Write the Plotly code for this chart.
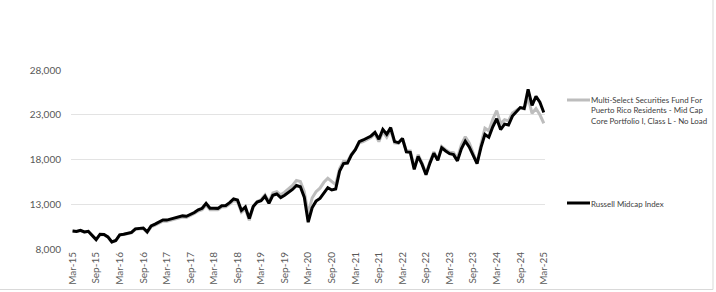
import pandas as pd
import plotly.graph_objects as go

months = [d.strftime("%b-%y") for d in pd.date_range("2015-03-01", "2025-03-01", freq="MS")]

fund_name = "Multi-Select Securities Fund For<br>Puerto Rico Residents - Mid Cap<br>Core Portfolio I, Class L - No Load"
index_name = "Russell Midcap Index"

fund = [
    10000, 9950, 10060, 9880, 9960, 9430, 9030, 9620, 9600, 9320,
    8760, 8930, 9550, 9620, 9740, 9810, 10200, 10270, 10290, 9860,
    10480, 10670, 10860, 11120, 11100, 11230, 11290, 11450, 11570, 11520,
    11730, 11960, 12250, 12400, 12920, 12380, 12380, 12380, 12680, 12720,
    13020, 13430, 13300, 12100, 12480, 11200, 12750, 13300, 13500, 14050,
    13300, 14250, 14400, 14050, 14350, 14700, 15100, 15650, 15550, 14400,
    11900, 13700, 14400, 14800, 15450, 15900, 15500, 15200, 17000, 17800,
    17750, 18600, 19100, 19850, 20000, 20200, 20450, 20850, 20000, 21100,
    20500, 21300, 19850, 19800, 20350, 18950, 18950, 17100, 18550, 17600,
    16400, 17750, 18850, 18000, 19450, 19100, 18800, 18750, 18150, 19650,
    20550, 19850, 18750, 17600, 19700, 21500, 21200, 22500, 23450, 22000,
    22450, 22300, 23200, 23550, 23800, 23650, 24900, 23150, 23700, 23000,
    22050,
]

russell = [
    10000, 9950, 10080, 9900, 9980, 9450, 9050, 9650, 9620, 9350,
    8780, 8950, 9580, 9650, 9780, 9850, 10250, 10320, 10350, 9920,
    10580, 10780, 10980, 11250, 11230, 11360, 11420, 11580, 11700, 11650,
    11850, 12080, 12380, 12550, 13100, 12550, 12560, 12540, 12840, 12870,
    13180, 13600, 13480, 12300, 12700, 11400, 12750, 13250, 13400, 13900,
    13100, 14000, 14150, 13750, 14000, 14300, 14650, 15100, 14950, 13800,
    11000, 12600, 13350, 13650, 14300, 14850, 14600, 14700, 16700, 17550,
    17600, 18500, 19100, 19990, 20180, 20370, 20630, 21040, 20260, 21370,
    20820, 21560, 20000, 19880, 20350, 18850, 18800, 16900, 18350, 17450,
    16300, 17600, 18700, 17900, 19300, 18950, 18650, 18550, 17850, 19200,
    20050, 19400, 18500, 17550, 19350, 20800, 20500, 21650, 22550, 21350,
    21950, 21850, 22850, 23300, 23800, 23700, 25850, 24050, 25050, 24400,
    23250,
]

y_ticks = [8000, 13000, 18000, 23000, 28000]
x_ticks = months[::6]

FONT = "Lato, 'Liberation Sans', sans-serif"
FUND_COLOR = "#BDBDBD"
INDEX_COLOR = "#000000"

# plot area geometry (px) for paper-coordinate placement of legend & border
L, R, T, B = 71, 171, 70, 43
PW, PH = 716 - L - R, 292 - T - B


def px_x(px):
    return (px - L) / PW


def px_y(py):
    return (292 - B - py) / PH


fig = go.Figure()
fig.add_trace(go.Scatter(
    x=months, y=fund, name=fund_name.replace("<br>", " "), mode="lines",
    line=dict(color=FUND_COLOR, width=3), showlegend=False,
))
fig.add_trace(go.Scatter(
    x=months, y=russell, name=index_name, mode="lines",
    line=dict(color=INDEX_COLOR, width=3), showlegend=False,
))

legend_items = [
    (fund_name, FUND_COLOR, 100),
    (index_name, INDEX_COLOR, 203),
]
shapes = []
annotations = []
for text, color, ypx in legend_items:
    shapes.append(dict(type="line", xref="paper", yref="paper",
                       x0=px_x(567), x1=px_x(590), y0=px_y(ypx), y1=px_y(ypx),
                       line=dict(color=color, width=3)))
    annotations.append(dict(xref="paper", yref="paper", x=px_x(589), y=px_y(ypx - 6.5),
                            xanchor="left", yanchor="top", align="left",
                            text=text, showarrow=False,
                            font=dict(family=FONT, size=7.9, color="#404040")))

# chart border (bottom and right edges)
shapes.append(dict(type="line", xref="paper", yref="paper",
                   x0=px_x(0), x1=px_x(713), y0=px_y(289.5), y1=px_y(289.5),
                   line=dict(color="#D9D9D9", width=1)))
shapes.append(dict(type="line", xref="paper", yref="paper",
                   x0=px_x(713), x1=px_x(713), y0=px_y(289.5), y1=px_y(0),
                   line=dict(color="#D9D9D9", width=1)))

fig.update_layout(
    template="none",
    width=716, height=292,
    margin=dict(l=L, r=R, t=T, b=B),
    paper_bgcolor="white", plot_bgcolor="white",
    font=dict(family=FONT, size=10, color="#595959"),
    showlegend=False,
    xaxis=dict(
        type="category", range=[-0.4, 120.3],
        tickmode="array", tickvals=x_ticks, ticktext=x_ticks,
        tickangle=-90, showgrid=False, zeroline=False, showline=False,
        ticks="", tickfont=dict(family=FONT, size=10, color="#595959"),
    ),
    yaxis=dict(
        range=[8000, 28000], tickmode="array", tickvals=y_ticks,
        tickformat=",d", showgrid=True, gridcolor="#E3E3E3", gridwidth=1,
        zeroline=False, showline=False, ticks="", ticklabelstandoff=9,
        tickfont=dict(family=FONT, size=10, color="#595959"),
    ),
    shapes=shapes,
    annotations=annotations,
)

fig.write_html("out.html")
